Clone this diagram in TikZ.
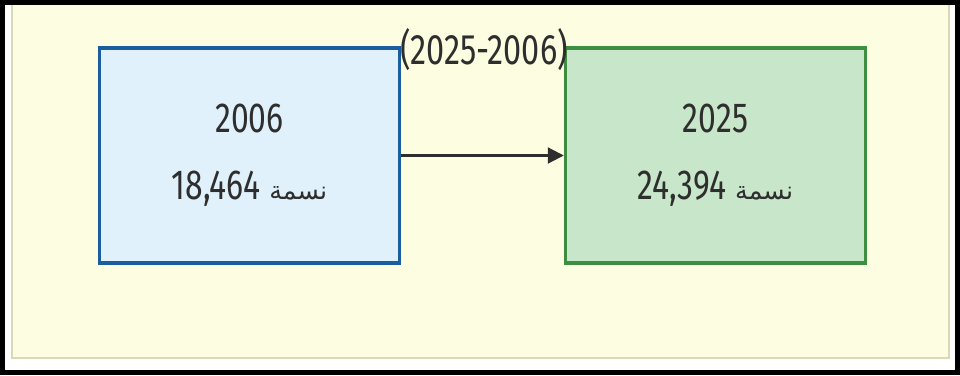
\documentclass[tikz,border=0pt]{standalone}
\usepackage{fontspec}
\setmainfont{Fira Sans}
\newfontfamily\numfont[FakeStretch=0.76]{Fira Sans}
\newfontfamily\arabicfont[Script=Arabic]{DejaVu Sans}
\TeXXeTstate=1
\usetikzlibrary{arrows.meta}
\usetikzlibrary{positioning}
\definecolor{panelfill}{HTML}{FDFDE1}
\definecolor{paneledge}{HTML}{D9D9B8}
\definecolor{bluefill}{HTML}{E0F1FB}
\definecolor{blueedge}{HTML}{1B5E9E}
\definecolor{greenfill}{HTML}{C8E6C9}
\definecolor{greenedge}{HTML}{3E8E41}
\definecolor{inkgray}{HTML}{2E2E2E}
\newcommand{\nasama}{{\arabicfont\fontsize{19}{50}\selectfont\beginR نسمة\endR}}

\begin{document}
\begin{tikzpicture}[x=0.75pt,y=0.75pt,yscale=-1,xscale=1]
 \useasboundingbox (0,0) rectangle (960,375);
 \tikzstyle{arrow} = [line width=1.6pt,draw=inkgray,-{Triangle[length=12pt,width=12pt]}]
 \tikzstyle{yearbox} = [rectangle,line width=2.6pt,minimum width=225pt,minimum height=161pt,align=center,text=inkgray,font=\numfont\fontsize{31.5}{50}\selectfont]
  %Background panel and outer frame
 \fill [panelfill] (12,0) rectangle (949,358);
 \draw [paneledge,line width=1pt] (12,-5) -- (12,358) -- (949,358) -- (949,-5);
 \draw [black,line width=4pt] (2.7,2.7) rectangle (957.3,372.3);
  %Boxes
 \node (yr2006) [yearbox,fill=bluefill,draw=blueedge] at (249.5,155.5) {2006\\18,464 \nasama};
 \node (yr2025) [yearbox,fill=greenfill,draw=greenedge] at (715.5,155.5) {2025\\24,394 \nasama};
  %Arrow
 \draw [arrow] (yr2006.east) -- (yr2025.west);
  %Labelling
 \node (span) [text=inkgray,inner sep=0.75pt,font=\numfont\fontsize{32}{36}\selectfont] at (484,50) {(2025-2006)};
\end{tikzpicture}
\end{document}
